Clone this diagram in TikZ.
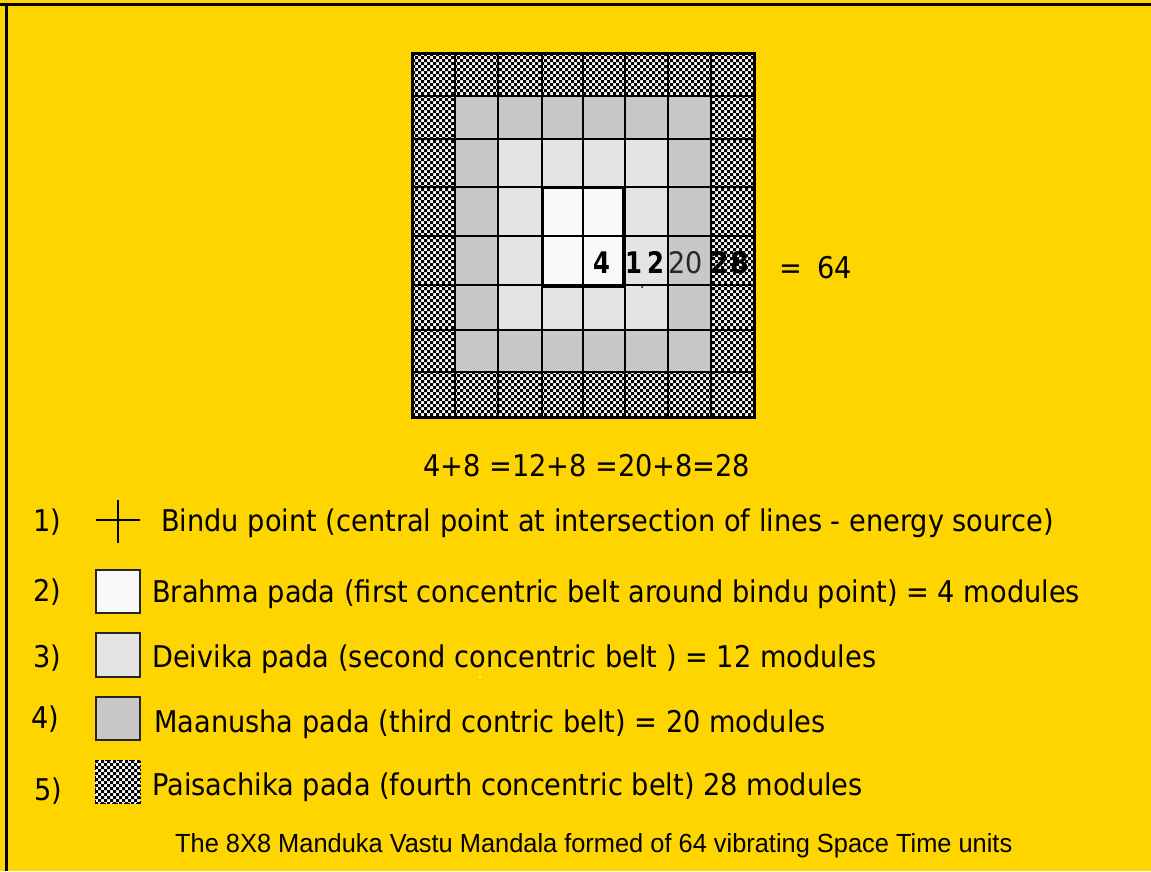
\documentclass[tikz,border=0pt]{standalone}
\usepackage{fontspec}
\setmainfont{DejaVu Sans}
\newfontfamily\capfont{Liberation Sans}
\definecolor{bg}{RGB}{255,213,0}
\definecolor{brah}{RGB}{249,249,249}
\definecolor{deiv}{RGB}{228,228,228}
\definecolor{maan}{RGB}{200,200,200}
\newcommand\vst[1]{\scalebox{1}[1.1]{#1}}
\newcommand\bnum[1]{\scalebox{0.9}[1.1]{\bfseries #1}}
% checker fill: x0 y0 ncols nrows
\newcommand\checkerfill[4]{%
  \fill[white] (#1,#2) rectangle ++(3*#3,3*#4);
  \foreach \ci in {0,...,\numexpr#3-1\relax}{%
    \pgfmathtruncatemacro\co{mod(\ci,2)}%
    \pgfmathtruncatemacro\ce{\co+2}%
    \fill[black] \foreach \cj in {\co,\ce,...,\numexpr#4-1\relax}{(#1+3*\ci,#2+3*\cj) rectangle ++(3,3)};
  }}
\tikzset{
  txt/.style={font=\fontsize{27.2}{30}\selectfont, inner sep=0pt, anchor=base west},
  num/.style={font=\fontsize{27}{30}\selectfont, inner sep=0pt, anchor=base west},
  gridline/.style={line width=2pt, black},
  legbox/.style={line width=2pt, draw=black!85},
}
\begin{document}
\begin{tikzpicture}[x=1pt,y=-1pt]
\useasboundingbox (0,0) rectangle (1151,871);
\fill[bg] (0,0) rectangle (1151,871);
\draw[line width=3pt] (0,4.5) -- (1151,4.5);
\draw[line width=3pt] (6.5,3) -- (6.5,871);

% mandala belts
\begin{scope}
\clip (412,53) rectangle (754,417);
\checkerfill{412}{53}{114}{122}
\end{scope}
\fill[maan] (455,96) rectangle (711,372);
\fill[deiv] (498,139) rectangle (668,330);
\fill[brah] (542,187) rectangle (625,285);
\foreach \x in {455,498,542,583,625,668,711}{\draw[gridline] (\x,53) -- (\x,417);}
\foreach \y in {96,139,187,236,285,330,372}{\draw[gridline] (412,\y) -- (754,\y);}
\draw[line width=3pt] (412,53) rectangle (754,417);
\draw[line width=3pt] (542,187) rectangle (623,286);
\fill[black] (642,287) circle (1pt);

% numbers in the grid
\node[num] (n4) at (593,273) {\bnum{4}};
\node[num] (n1) at (625,273) {\bnum{1}};
\node[num] (n2) at (647,273) {\bnum{2}};
\node[num, text=black!85] (n20) at (668,273) {\vst{20}};
\node[num] (n28a) at (710,273) {\vst{\bfseries 2}};
\node[num] (n28b) at (730,273) {\vst{\bfseries 8}};
\node[txt] (eq) at (779,278) {\vst{=}};
\node[txt] (n64) at (817,278) {\vst{64}};

\node[txt] (sum) at (423,476) {\vst{4+8 =12+8 =20+8=28}};

% legend
\node[txt] (l1) at (33,531) {\vst{1)}};
\draw[line width=2pt] (96,520) -- (140,520);
\draw[line width=2pt] (118,500) -- (118,543);
\node[txt] (t1) at (161,531) {\vst{Bindu point (central point at intersection of lines - energy source)}};

\node[txt] (l2) at (33,601) {\vst{2)}};
\filldraw[legbox, fill=brah] (96,570) rectangle (140,613);
\node[txt] (t2) at (152,602) {\vst{Brahma pada (first concentric belt around bindu point) = 4 modules}};

\node[txt] (l3) at (33,667) {\vst{3)}};
\filldraw[legbox, fill=deiv] (96,633) rectangle (140,677);
\node[txt] (t3) at (152,667) {\vst{Deivika pada (second concentric belt ) = 12 modules}};
\fill[white] (480,677) circle (1pt);

\node[txt] (l4) at (31,728) {\vst{4)}};
\filldraw[legbox, fill=maan] (96,697) rectangle (140,740);
\node[txt] (t4) at (154,732) {\vst{Maanusha pada (third contric belt) = 20 modules}};

\node[txt] (l5) at (34,800) {\vst{5)}};
\begin{scope}
\clip (95,760) rectangle (140,803);
\checkerfill{95}{760}{15}{15}
\end{scope}
\draw[line width=1pt, dash pattern=on 2pt off 2pt] (95,760) rectangle (140,803);
\node[txt] (t5) at (152,795) {\vst{Paisachika pada (fourth concentric belt) 28 modules}};

\node[inner sep=0pt, anchor=base west] (cap) at (175,852) {\resizebox{837pt}{19pt}{\capfont The 8X8 Manduka Vastu Mandala formed of 64 vibrating Space Time units}};
\end{tikzpicture}
\end{document}
